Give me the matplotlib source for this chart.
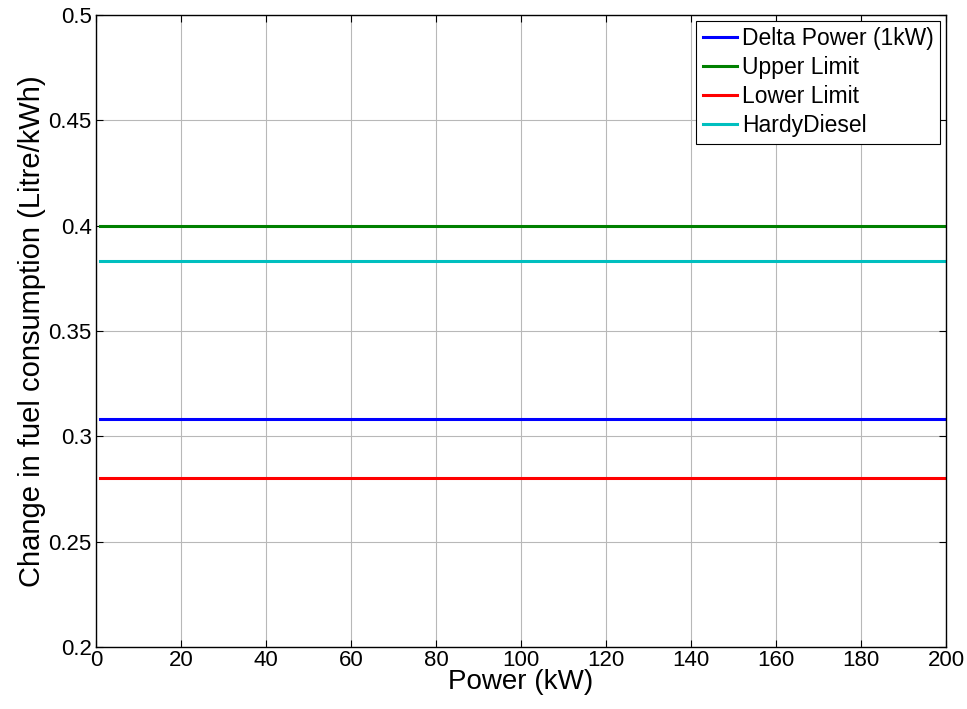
import numpy as np
import matplotlib.pyplot as plt

plt.rcParams['font.family'] = ['Liberation Sans', 'DejaVu Sans']

# power range (kW) and per-kW fuel consumption change (litre/kWh)
power = np.arange(1, 201)
series_names = ["Delta Power (1kW)", "Upper Limit", "Lower Limit", "HardyDiesel"]
series_levels = [0.308, 0.400, 0.280, 0.383]
series_colors = ["#0000ff", "#008000", "#ff0000", "#00bfbf"]

x_ticks = np.arange(0, 201, 20)
y_ticks = [0.2, 0.25, 0.3, 0.35, 0.4, 0.45, 0.5]
y_tick_labels = ["0.2", "0.25", "0.3", "0.35", "0.4", "0.45", "0.5"]


def main():
    fig = plt.figure(figsize=(9.67, 7.09), dpi=100)
    ax = fig.add_axes([0.0993, 0.0875, 0.8790, 0.8915])

    for name, level, color in zip(series_names, series_levels, series_colors):
        ax.plot(power, np.full(power.shape, level), color=color, lw=2.2, label=name)

    ax.set_xlim(0, 200)
    ax.set_ylim(0.2, 0.5)
    ax.set_xticks(x_ticks)
    ax.set_yticks(y_ticks)
    ax.set_yticklabels(y_tick_labels)
    ax.tick_params(direction='in', length=5, width=0.8, labelsize=16,
                   top=True, right=True)
    ax.tick_params(axis='x', pad=2)
    ax.tick_params(axis='y', pad=3)
    ax.grid(True, color='#b8b8b8', lw=0.8)
    ax.set_axisbelow(True)
    for s in ax.spines.values():
        s.set_linewidth(1.0)

    ax.set_xlabel("Power (kW)", fontsize=20, labelpad=-1)
    ax.set_ylabel("Change in fuel consumption (Litre/kWh)", fontsize=21, labelpad=2)

    leg = ax.legend(loc='upper right', fontsize=16.5, fancybox=False, framealpha=1,
                    edgecolor='black', handlelength=1.5, handletextpad=0.2,
                    borderpad=0.3, labelspacing=0.25, borderaxespad=0.25)
    leg.get_frame().set_linewidth(0.8)

    fig.savefig("out.png", dpi=100)


if __name__ == '__main__':
    main()
